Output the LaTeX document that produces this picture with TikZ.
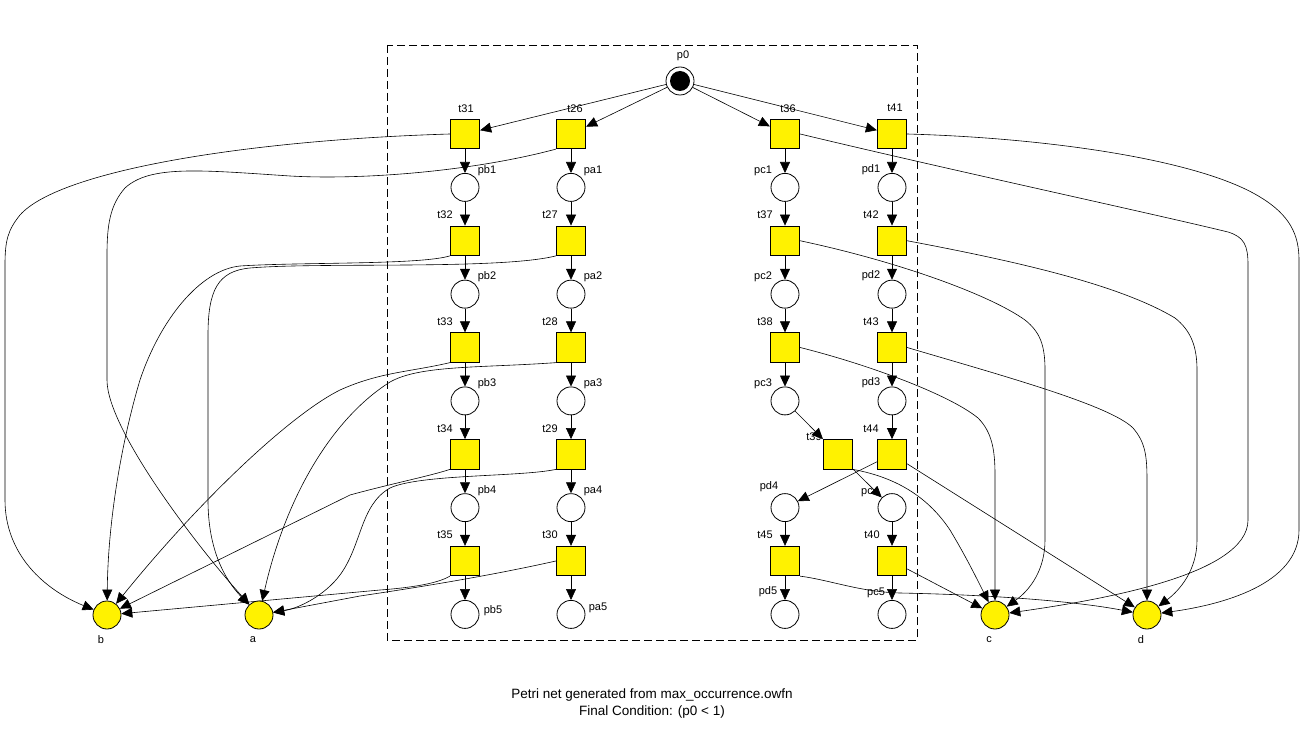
\documentclass[tikz,border=0pt]{standalone}
\usepackage{fontspec}
\setmainfont{Liberation Sans}
\usetikzlibrary{positioning,arrows.meta}
\pgfdeclarelayer{lbls}
\pgfdeclarelayer{arcs}
\pgfsetlayers{lbls,arcs,main}

\begin{document}
\begin{tikzpicture}[x=1pt,y=-1pt,
    place/.style={circle, draw, fill=white, minimum size=28pt, inner sep=0pt, line width=0.8pt},
    trans/.style={rectangle, draw, fill=yellow, minimum size=29.5pt, inner sep=0pt, line width=0.8pt},
    final/.style={place, fill=yellow},
    arc/.style={-{Triangle[length=11pt,width=10pt]}, line width=0.6pt},
    lbl/.style={font=\fontsize{11}{13}\selectfont, inner sep=0pt}]
    \useasboundingbox (0,0) rectangle (1304,730);

    % places and transitions
    \node[place] (p0) at (680,81) {};
    \fill (p0) circle (10pt);

    \foreach \k [evaluate=\k as \ty using {134+106.75*(\k-1)},
                 evaluate=\k as \py using {187.4+106.75*(\k-1)}] in {1,...,5}{
        \pgfmathtruncatemacro{\tb}{30+\k}
        \pgfmathtruncatemacro{\ta}{25+\k}
        \node[trans] (t\tb) at (465,\ty) {};
        \node[place] (pb\k) at (465,\py) {};
        \node[trans] (t\ta) at (571,\ty) {};
        \node[place] (pa\k) at (571,\py) {};
    }
    \foreach \k [evaluate=\k as \ty using {134+106.75*(\k-1)},
                 evaluate=\k as \py using {187.4+106.75*(\k-1)}] in {1,2,3}{
        \pgfmathtruncatemacro{\tc}{35+\k}
        \pgfmathtruncatemacro{\td}{40+\k}
        \node[trans] (t\tc) at (785,\ty) {};
        \node[place] (pc\k) at (785,\py) {};
        \node[trans] (t\td) at (892,\ty) {};
        \node[place] (pd\k) at (892,\py) {};
    }
    \node[trans] (t39) at (838,454.3) {};
    \node[trans] (t44) at (892,454.3) {};
    \node[place] (pc4) at (892,507.6) {};
    \node[place] (pd4) at (785,507.6) {};
    \node[trans] (t40) at (892,561) {};
    \node[trans] (t45) at (785,561) {};
    \node[place] (pc5) at (892,614.4) {};
    \node[place] (pd5) at (785,614.4) {};

    \node[final] (b) at (107,615) {};
    \node[final] (a) at (259,615) {};
    \node[final] (c) at (995,615) {};
    \node[final] (d) at (1147,615) {};

    % labels
    \begin{pgfonlayer}{lbls}
        \draw[dash pattern=on 8pt off 4pt, line width=0.6pt] (387,45) rectangle (917,640);
        \foreach \n/\dx/\dy in {p0/3/-25, t31/1/-25, t26/4/-25, t36/3/-25, t41/3/-26,
                t32/-20/-26, t33/-20/-26, t34/-20/-26, t35/-20/-26,
                t27/-21/-26, t28/-21/-26, t29/-21/-26, t30/-21/-26,
                t37/-20/-26, t38/-20/-26, t45/-20/-26, t40/-20/-26,
                t42/-21/-26, t43/-21/-26, t44/-21/-26, t39/-24/-18,
                pb1/22/-17, pb2/22/-17, pb3/22/-17, pb4/22/-17, pb5/28/-4,
                pa1/22/-17, pa2/22/-17, pa3/22/-17, pa4/22/-17, pa5/27/-7,
                pc1/-22/-17, pc2/-22/-17, pc3/-22/-17, pc4/-22/-16, pc5/-16/-22,
                pd1/-21/-18, pd2/-21/-18, pd3/-21/-18, pd4/-16/-21, pd5/-17/-23,
                b/-6/25, a/-6/25, c/-6/25, d/-6/25}
            \node[lbl] (l\n) at ([shift={(\dx,\dy)}]\n) {\n};
    \end{pgfonlayer}

    \node[font=\fontsize{13.5}{17}\selectfont, align=center] (caption) at (652,704)
        {Petri net generated from max\_occurrence.owfn\\Final Condition: (p0 < 1)};

    % arcs
    \begin{pgfonlayer}{arcs}
        \foreach \k in {1,...,5}{
            \pgfmathtruncatemacro{\tb}{30+\k}
            \pgfmathtruncatemacro{\ta}{25+\k}
            \draw[arc] (t\tb) -- (pb\k);
            \draw[arc] (t\ta) -- (pa\k);
        }
        \foreach \k in {1,...,4}{
            \pgfmathtruncatemacro{\tb}{31+\k}
            \pgfmathtruncatemacro{\ta}{26+\k}
            \draw[arc] (pb\k) -- (t\tb);
            \draw[arc] (pa\k) -- (t\ta);
        }
        \foreach \u/\v in {p0/t31, p0/t26, p0/t36, p0/t41,
                t36/pc1, pc1/t37, t37/pc2, pc2/t38, t38/pc3, pc3/t39, t39/pc4, pc4/t40, t40/pc5,
                t41/pd1, pd1/t42, t42/pd2, pd2/t43, t43/pd3, pd3/t44, t44/pd4, pd4/t45, t45/pd5,
                t44/d, t40/c}
            \draw[arc] (\u) -- (\v);

        % left side outputs
        \draw[arc] (t31.west) .. controls (250,140) and (60,170) .. (20,215)
            .. controls (8,230) and (5,240) .. (5,265) -- (5,500) .. controls (5,555) and (45,590) .. (b);
        \draw[arc] (t26.south west) .. controls (470,172) and (360,180) .. (290,176)
            .. controls (200,170) and (150,165) .. (125,188) .. controls (110,205) and (107,225) .. (107,255)
            -- (107,380) .. controls (107,430) and (200,550) .. (a);
        \draw[arc] (t32.south west) .. controls (420,265) and (300,262) .. (240,266)
            .. controls (200,270) and (160,320) .. (140,380) .. controls (122,440) and (108,520) .. (b);
        \draw[arc] (t27.south west) .. controls (500,270) and (320,262) .. (250,268)
            .. controls (218,271) and (208,290) .. (208,335) -- (208,500) .. controls (208,550) and (225,580) .. (a);
        \draw[arc] (t33.south west) .. controls (410,372) and (380,372) .. (340,390)
            .. controls (290,415) and (200,500) .. (b);
        \draw[arc] (t28.south west) .. controls (480,368) and (420,365) .. (390,382)
            .. controls (330,420) and (285,500) .. (a);
        \draw[arc] (t34.south west) .. controls (430,476) and (390,484) .. (350,495) -- (b);
        \draw[arc] (t29.south west) .. controls (520,477) and (420,474) .. (390,488)
            .. controls (360,505) and (362,545) .. (340,575) .. controls (325,595) and (300,608) .. (a);
        \draw[arc] (t35.south west) .. controls (440,582) and (420,587) .. (380,590) -- (b);
        \draw[arc] (t30.west) .. controls (480,578) and (400,590) .. (360,596) -- (a);

        % right side outputs
        \draw[arc] (t36.east) .. controls (950,170) and (1150,213) .. (1228,232)
            .. controls (1244,237) and (1248,245) .. (1248,265) -- (1248,520) .. controls (1248,575) and (1100,600) .. (c);
        \draw[arc] (t41.east) .. controls (1050,138) and (1200,160) .. (1260,197)
            .. controls (1290,215) and (1299,235) .. (1299,260) -- (1299,530) .. controls (1299,585) and (1220,605) .. (d);
        \draw[arc] (t37.east) .. controls (900,262) and (990,295) .. (1025,320)
            .. controls (1040,332) and (1045,345) .. (1045,370) -- (1045,540) .. controls (1045,570) and (1030,590) .. (c);
        \draw[arc] (t42.east) .. controls (1020,262) and (1120,285) .. (1175,318)
            .. controls (1190,330) and (1197,345) .. (1197,370) -- (1197,540) .. controls (1197,570) and (1180,590) .. (d);
        \draw[arc] (t38.east) .. controls (870,365) and (950,395) .. (978,418)
            .. controls (992,432) and (995,450) .. (995,475) -- (c);
        \draw[arc] (t43.east) .. controls (1000,375) and (1110,405) .. (1133,428)
            .. controls (1145,442) and (1147,455) .. (1147,480) -- (d);
        \draw[arc] (t39.south east) .. controls (900,478) and (930,500) .. (950,530)
            .. controls (965,555) and (975,575) .. (c);
        \draw[arc] (t45.south east) .. controls (830,580) and (860,592) .. (900,593)
            .. controls (1000,595) and (1080,602) .. (d);
    \end{pgfonlayer}
\end{tikzpicture}
\end{document}
